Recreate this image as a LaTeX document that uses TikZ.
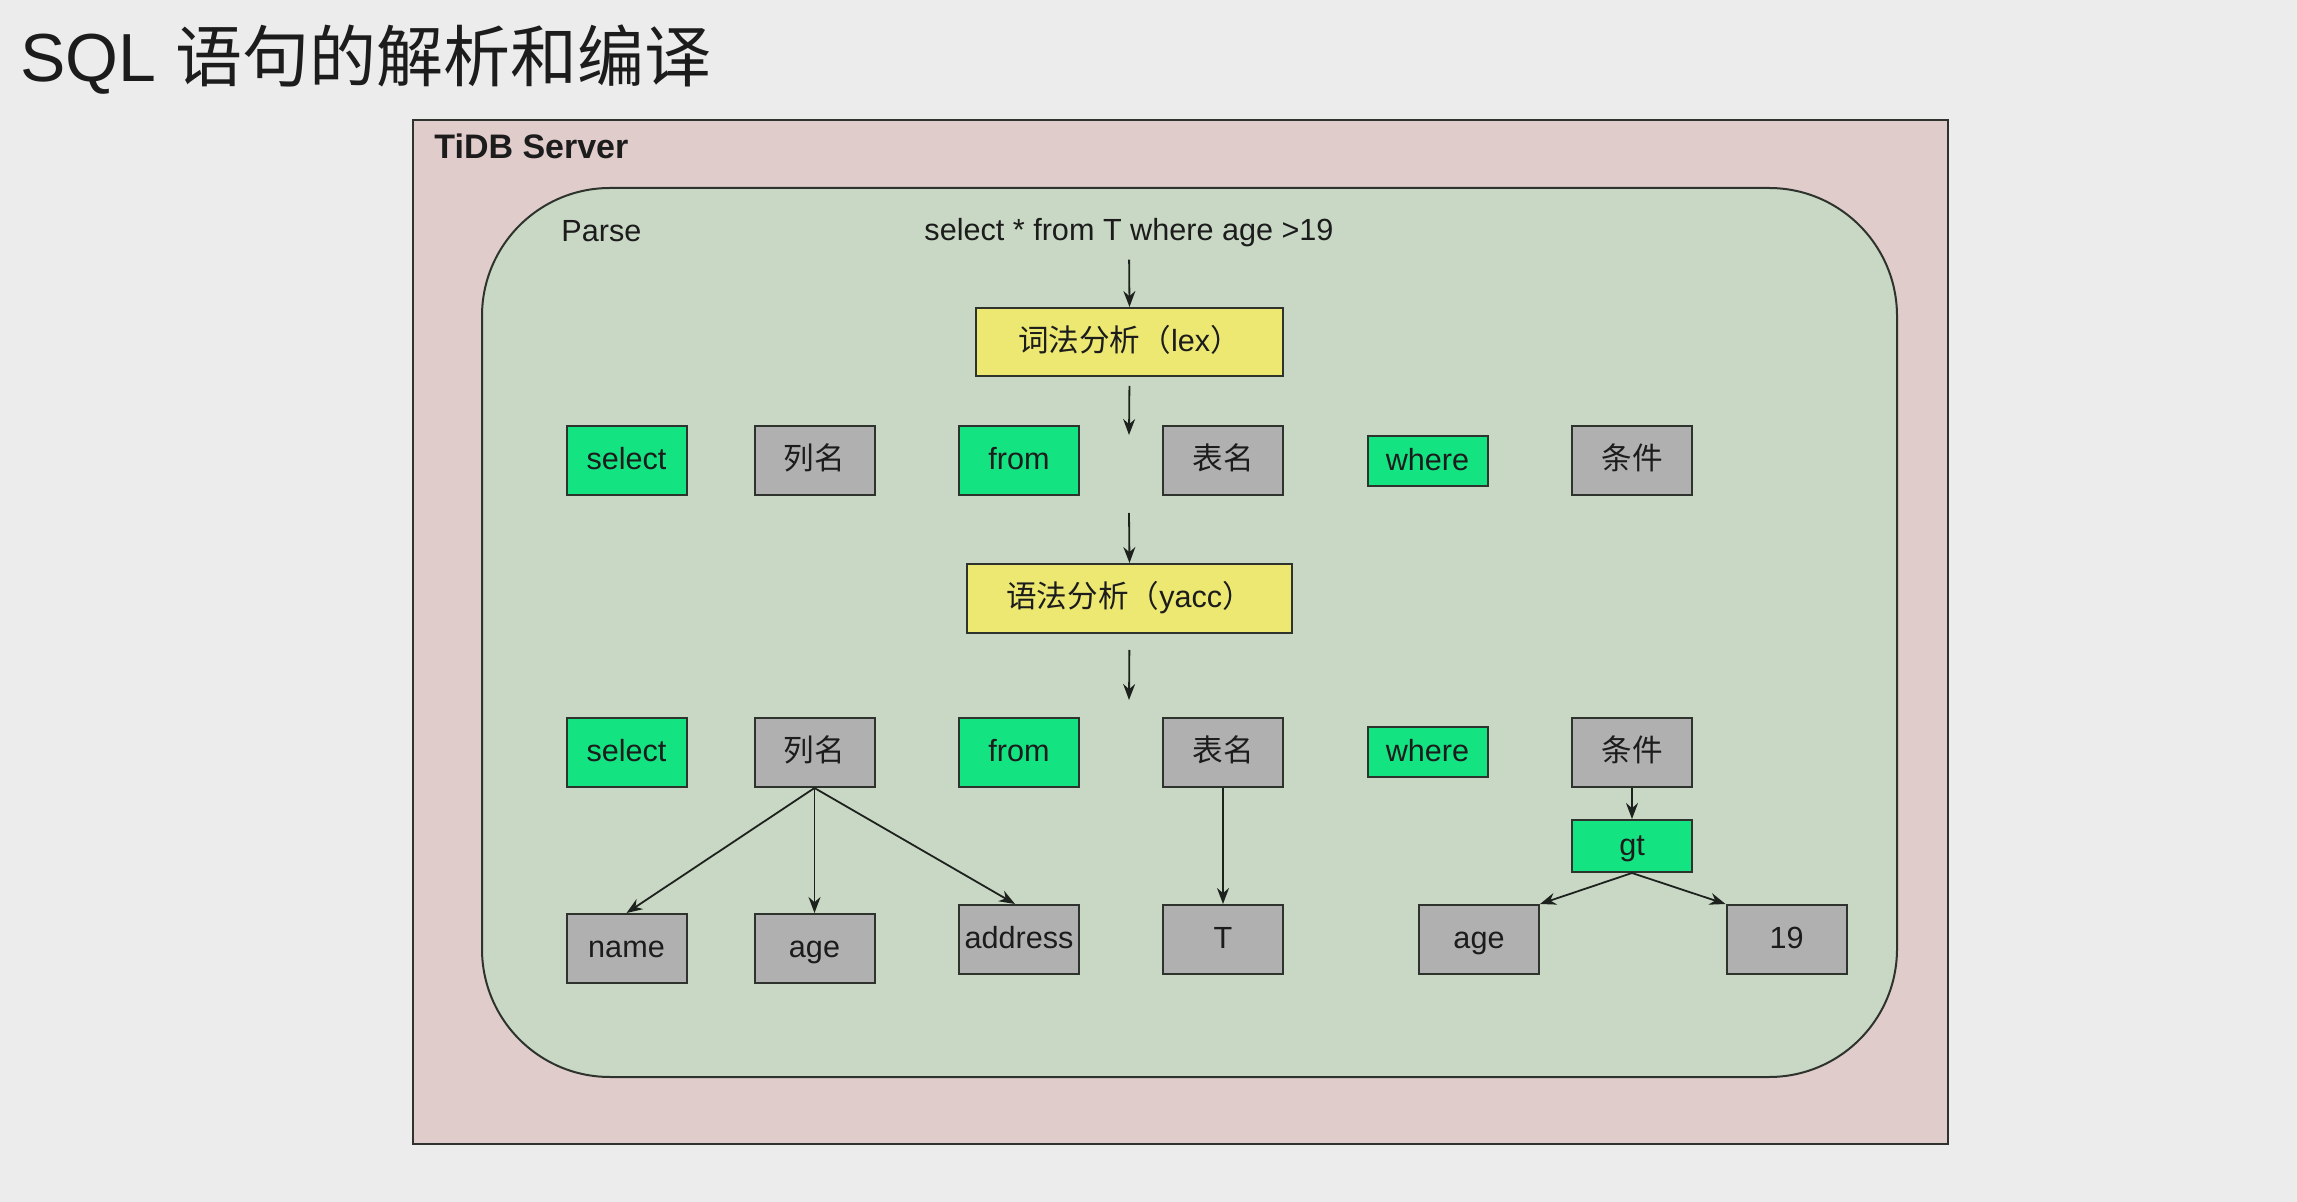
\documentclass[tikz,border=0pt]{standalone}
\usepackage{fontspec}
\setmainfont{Liberation Sans}
\newfontfamily\cjk{Noto Sans CJK SC}
\usetikzlibrary{arrows.meta}
\definecolor{pagebg}{HTML}{ECECEC}
\definecolor{outerc}{HTML}{E0CDCB}
\definecolor{greenbg}{HTML}{C8D8C4}
\definecolor{greenc}{HTML}{14E382}
\definecolor{grayc}{HTML}{B0B0B0}
\definecolor{yellowc}{HTML}{ECE872}
\definecolor{linec}{HTML}{2E332E}
\definecolor{arrc}{HTML}{1E221E}
\definecolor{textc}{HTML}{1C1C1C}
\newcommand{\lblfont}{\fontsize{15.3}{18}\selectfont}
\begin{document}
\begin{tikzpicture}[x=0.5pt,y=-0.5pt,
  box/.style={draw=linec, line width=1pt, minimum width=60pt, minimum height=34.5pt, inner sep=0pt, font=\lblfont, text=textc, text height=12.2pt, text depth=3.1pt},
  gbox/.style={box, fill=greenc},
  xbox/.style={box, fill=grayc},
  ybox/.style={box, fill=yellowc},
  arr/.style={draw=arrc, line width=0.9pt, -{Stealth[length=8pt,width=6pt]}}
]
\useasboundingbox (0,0) rectangle (2297,1202);
\fill[pagebg] (0,0) rectangle (2297,1202);

% title
\node[anchor=base west, inner sep=0pt, text=textc] (title) at (20,82)
  {\fontsize{34}{40}\selectfont SQL {\cjk\fontsize{33.5}{40}\selectfont 语句的解析和编译}};

% containers
\draw[fill=outerc, draw=linec, line width=1pt] (413,120) rectangle (1948,1144);
\draw[fill=greenbg, draw=linec, line width=1pt, rounded corners=64pt] (482,188) rectangle (1897,1077);

\node[anchor=west, inner sep=0pt, text=textc, font=\bfseries\fontsize{17}{20}\selectfont] (tidb) at (434,146) {TiDB Server};
\node[anchor=west, inner sep=0pt, text=textc, font=\lblfont] (parse) at (561,231) {Parse};
\node[inner sep=0pt, text=textc, font=\lblfont] (q) at (1129,233) {select * from T where age >19};

% lex / yacc
\node[ybox, minimum width=153.5pt, minimum height=34pt] (lex) at (1129.5,342) {{\cjk 词法分析（}lex{\cjk ）}};
\node[ybox, minimum width=162.5pt] (yacc) at (1129.5,598.5) {{\cjk 语法分析（}yacc{\cjk ）}};

% row 1
\node[gbox] (s1) at (626.5,460.5) {select};
\node[xbox] (c1) at (814.5,460.5) {\cjk 列名};
\node[gbox] (f1) at (1019,460.5) {from};
\node[xbox] (t1) at (1223,460.5) {\cjk 表名};
\node[gbox, minimum height=25pt] (w1) at (1427.5,461.5) {where};
\node[xbox] (k1) at (1632,460.5) {\cjk 条件};

% row 2
\node[gbox] (s2) at (626.5,752.5) {select};
\node[xbox] (c2) at (814.5,752.5) {\cjk 列名};
\node[gbox] (f2) at (1019,752.5) {from};
\node[xbox] (t2) at (1223,752.5) {\cjk 表名};
\node[gbox, minimum height=25pt] (w2) at (1427.5,752.5) {where};
\node[xbox] (k2) at (1632,752.5) {\cjk 条件};

% row 3
\node[xbox] (name) at (626.5,948.5) {name};
\node[xbox] (age) at (814.5,948.5) {age};
\node[xbox] (addr) at (1019,939.5) {address};
\node[xbox] (tt) at (1223,939.5) {T};
\node[gbox, minimum height=26pt] (gt) at (1632,846) {gt};
\node[xbox] (age2) at (1479,939.5) {age};
\node[xbox] (n19) at (1786.5,939.5) {19};

% free arrow ends
\coordinate (a1) at (1129,435);
\coordinate (a2) at (1129,513);
\coordinate (a3) at (1129,700);

% connectors
\draw[arr, shorten <=6pt] (q.south) -- (lex.north);
\draw[arr, shorten <=4.5pt] (lex.south) -- (a1);
\draw[arr] (a2) -- (yacc.north);
\draw[arr, shorten <=8pt] (yacc.south) -- (a3);
\draw[arr] (c2.south) -- (name.north);
\draw[arr] (c2.south) -- (age.north);
\draw[arr] (c2.south) -- ([xshift=-2pt]addr.north);
\draw[arr] (t2.south) -- (tt.north);
\draw[arr] (k2.south) -- (gt.north);
\draw[arr] (gt.south) -- (age2.north east);
\draw[arr] (gt.south) -- (n19.north west);
\end{tikzpicture}
\end{document}
